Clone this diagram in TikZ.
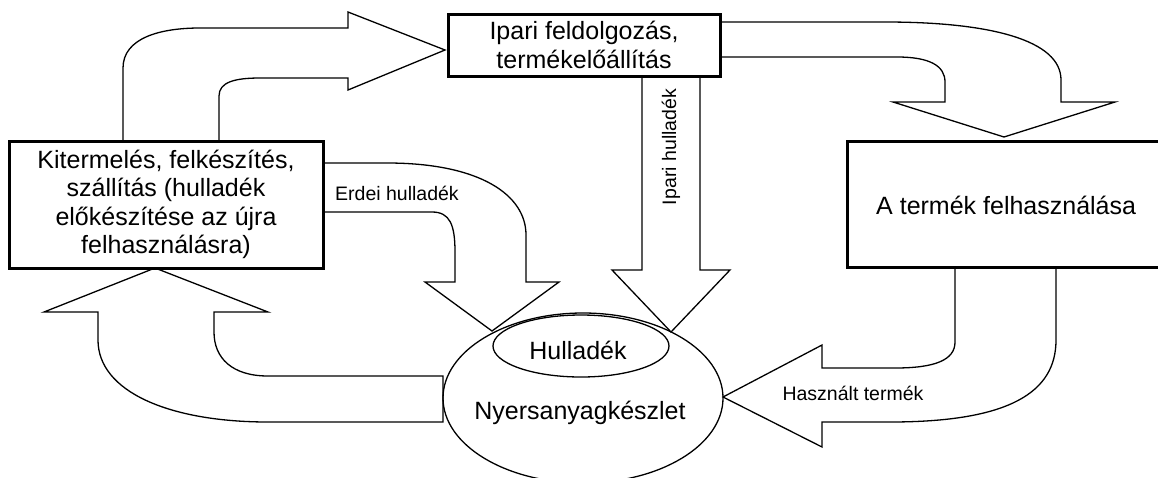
\documentclass[tikz,border=0pt]{standalone}
\usepackage{fontspec}
\setmainfont{Liberation Sans}
\usetikzlibrary{shapes.geometric}
\begin{document}
\begin{tikzpicture}[x=1pt,y=-1pt,
  boxline/.style={draw, line width=3pt, inner sep=0pt},
  blockarrow/.style={draw, line width=1.3pt, line join=miter},
  oval/.style={draw, ellipse, line width=1.3pt, inner sep=0pt},
  maintext/.style={font=\fontsize{25}{28.5}\selectfont, align=center},
  labeltext/.style={font=\fontsize{19.5}{22}\selectfont, inner sep=0pt}]
\useasboundingbox (0,0) rectangle (1158,477);

% boxes
\node[boxline, maintext, minimum width=314pt, minimum height=127pt] (kiterm) at (166,204.5)
  {Kitermelés, felkészítés,\\ szállítás (hulladék\\ előkészítése az újra\\ felhasználásra)};
\node[boxline, maintext, minimum width=272pt, minimum height=62pt] (ipari) at (584,45)
  {Ipari feldolgozás,\\ termékelőállítás};
\node[boxline, minimum width=324pt, minimum height=126pt] (hasznalat) at (1009,204) {};
\node[maintext, anchor=west, inner sep=0pt] (hasznalattxt) at (876,205) {A termék felhasználása};

% stock ellipses
\node[oval, minimum width=280pt, minimum height=170pt] (keszlet) at (583,398) {};
\node[oval, minimum width=176pt, minimum height=62pt] (hulladek) at (581,346) {};
\node[maintext, inner sep=0pt] (hulladektxt) at (578,350) {Hulladék};
\node[maintext, inner sep=0pt] (keszlettxt) at (580,413) {Nyersanyagkészlet};

% raw material -> industry
\draw[blockarrow] (123,140) -- (123,68) .. controls (123,38) and (160,28) .. (200,28)
  -- (348,28) -- (348,12) -- (445,50) -- (348,90) -- (348,78) -- (260,78)
  .. controls (235,78) and (219,82) .. (219,96) -- (219,140);

% industry -> use
\draw[blockarrow] (720,22) -- (885,22) .. controls (990,22) and (1061,40) .. (1061,80)
  -- (1061,102) -- (1115,102) -- (1004,137) -- (893,102) -- (945,102) -- (945,82)
  .. controls (945,66) and (930,57) .. (897,57) -- (720,57);

% forest waste
\draw[blockarrow] (323,163) -- (387,163) .. controls (480,163) and (526,195) .. (526,235)
  -- (526,282) -- (559,282) -- (492,331) -- (425,282) -- (455,282) -- (455,252)
  .. controls (455,225) and (450,212) .. (432,212) -- (323,212);
\node[labeltext] (erdei) at (397,193) {Erdei hulladék};

% industrial waste
\draw[blockarrow] (642,77) -- (642,270) -- (612,270) -- (671,332) -- (730,270)
  -- (700,270) -- (700,77);
\node[labeltext, rotate=90] (iparihull) at (671,147) {Ipari hulladék};

% used product
\draw[blockarrow] (955,267) -- (955,342) .. controls (955,360) and (935,368) .. (895,368)
  -- (822,368) -- (822,345) -- (723,397) -- (822,447) -- (822,422) -- (890,422)
  .. controls (1010,422) and (1056,392) .. (1056,340) -- (1056,267);
\node[labeltext] (hasznalt) at (853,393) {Használt termék};

% stock -> raw material
\draw[blockarrow] (443,376) -- (268,376) .. controls (232,376) and (214,358) .. (214,332)
  -- (214,312) -- (268,312) -- (155,268) -- (44,312) -- (98,312) -- (98,340)
  .. controls (98,392) and (170,422) .. (268,422) -- (443,422) -- cycle;
\end{tikzpicture}
\end{document}
